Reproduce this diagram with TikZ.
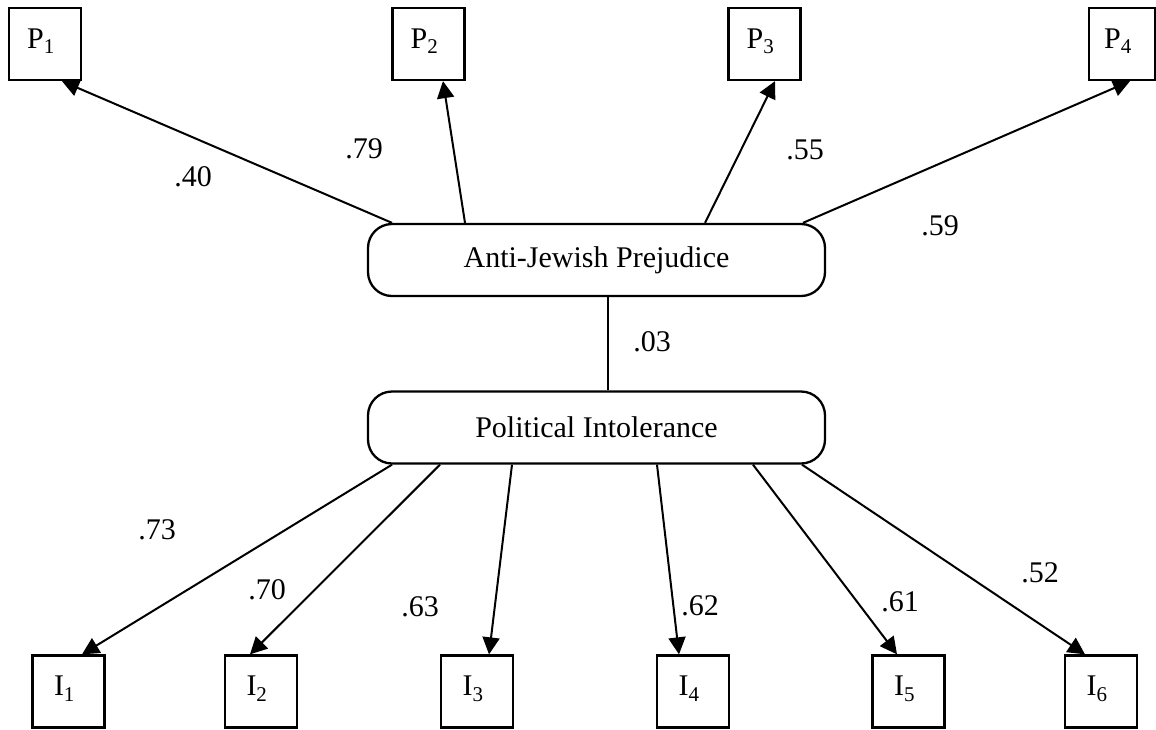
\documentclass[tikz,border=0pt]{standalone}
\usepackage{fontspec}
\setmainfont{Liberation Serif}
\usetikzlibrary{arrows.meta,calc}
\begin{document}
\begin{tikzpicture}[x=1pt,y=-1pt,
  every node/.style={font=\fontsize{30}{35}\selectfont},
  ind/.style={draw,line width=2.3pt,minimum width=72pt,minimum height=72pt,inner sep=0pt},
  latent/.style={draw,line width=2.3pt,rounded corners=24pt,minimum width=457pt,minimum height=72pt,inner sep=0pt},
  path/.style={line width=2pt,-{Triangle[length=17pt,width=17pt]}},
  corr/.style={line width=2pt},
  coef/.style={inner sep=0pt}]
\useasboundingbox (0,0) rectangle (1156,729);
\newcommand{\boxlab}[2]{\raisebox{11pt}{#1\textsubscript{#2}\hspace*{8pt}}}
% latent variables
\node[latent] (ajp) at (596.5,260) {Anti-Jewish Prejudice};
\node[latent] (pi) at (596.5,427.5) {Political Intolerance};
% indicators
\node[ind] (p1) at (45,44) {\boxlab{P}{1}};
\node[ind] (p2) at (428.5,44) {\boxlab{P}{2}};
\node[ind] (p3) at (764.5,44) {\boxlab{P}{3}};
\node[ind,minimum width=66pt] (p4) at (1122,44) {\boxlab{P}{4}};
\node[ind] (i1) at (68.5,691.5) {\boxlab{I}{1}};
\node[ind] (i2) at (261,691.5) {\boxlab{I}{2}};
\node[ind] (i3) at (477,691.5) {\boxlab{I}{3}};
\node[ind] (i4) at (693,691.5) {\boxlab{I}{4}};
\node[ind] (i5) at (908.5,691.5) {\boxlab{I}{5}};
\node[ind] (i6) at (1101,691.5) {\boxlab{I}{6}};
% paths
\draw[path] ([xshift=-204.5pt]ajp.north) -- ([xshift=17pt]p1.south);
\draw[path] ([xshift=-131.5pt]ajp.north) -- ([xshift=14.5pt]p2.south);
\draw[path] ([xshift=108.5pt]ajp.north) -- ([xshift=10.5pt]p3.south);
\draw[path] ([xshift=206.5pt]ajp.north) -- ([xshift=8pt]p4.south);
\draw[corr] ([xshift=11.5pt]ajp.south) -- ([xshift=11.5pt]pi.north);
\draw[path] ([xshift=-204.5pt]pi.south) -- ([xshift=13.5pt]i1.north);
\draw[path] ([xshift=-156.5pt]pi.south) -- ([xshift=-11pt]i2.north);
\draw[path] ([xshift=-84.5pt]pi.south) -- ([xshift=12pt]i3.north);
\draw[path] ([xshift=60.5pt]pi.south) -- ([xshift=-14pt]i4.north);
\draw[path] ([xshift=156.5pt]pi.south) -- ([xshift=-11.5pt]i5.north);
\draw[path] ([xshift=205.5pt]pi.south) -- ([xshift=-16pt]i6.north);
% coefficients
\node[coef] (c40) at (193,177) {.40};
\node[coef] (c79) at (364,149) {.79};
\node[coef] (c55) at (805,150) {.55};
\node[coef] (c59) at (940,226) {.59};
\node[coef] (c03) at (652,342) {.03};
\node[coef] (c73) at (157,530) {.73};
\node[coef] (c70) at (267,590) {.70};
\node[coef] (c63) at (420,607) {.63};
\node[coef] (c62) at (700,606) {.62};
\node[coef] (c61) at (900,602) {.61};
\node[coef] (c52) at (1040,573) {.52};
\end{tikzpicture}
\end{document}
